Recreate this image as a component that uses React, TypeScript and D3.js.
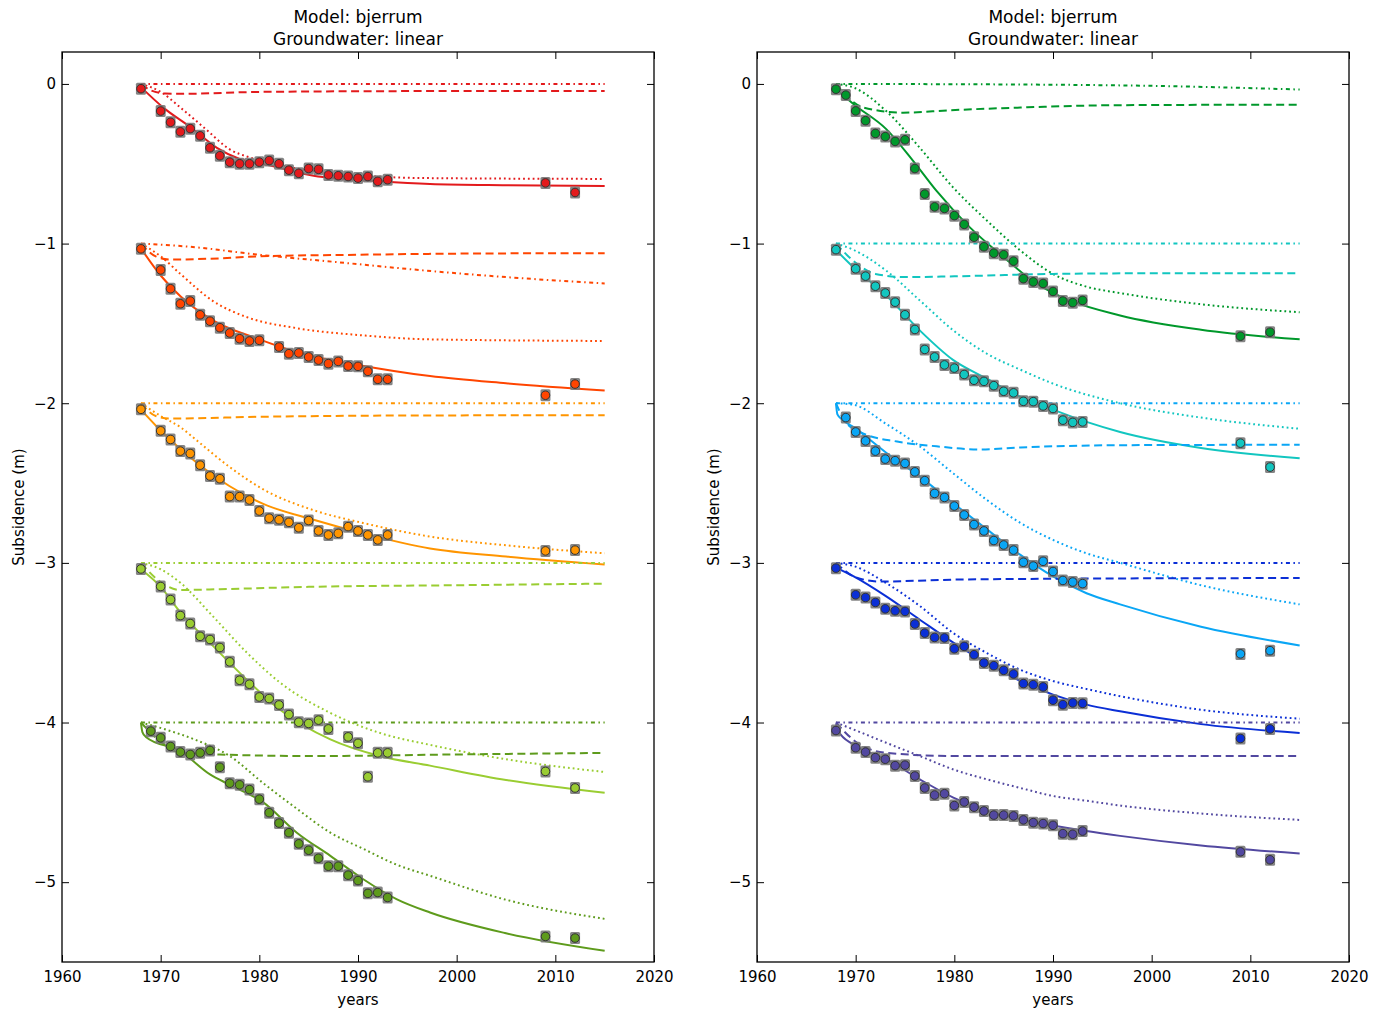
import React, { useEffect, useRef } from 'react';
import * as d3 from 'd3';

// observation years (1968-1993 yearly, then two late surveys)
const obsYears = [1968, 1969, 1970, 1971, 1972, 1973, 1974, 1975, 1976, 1977, 1978, 1979, 1980,
  1981, 1982, 1983, 1984, 1985, 1986, 1987, 1988, 1989, 1990, 1991, 1992, 1993, 2009, 2012];

const xTicks = [1960, 1970, 1980, 1990, 2000, 2010, 2020];
const yTicks = [0, -1, -2, -3, -4, -5];

// ---- left panel observations (null = no survey that year)
const redObs = [-0.03, null, -0.17, -0.24, -0.30, -0.28, -0.325, -0.40, -0.45, -0.49, -0.50, -0.50, -0.49,
  -0.48, -0.50, -0.54, -0.56, -0.53, -0.535, -0.57, -0.575, -0.58, -0.59, -0.58, -0.61, -0.60, -0.62, -0.68];
const orangeRedObs = [-1.033, null, -1.165, -1.283, -1.377, -1.36, -1.446, -1.486, -1.527, -1.56, -1.596, -1.61, -1.606,
  null, -1.648, -1.69, -1.685, -1.71, -1.73, -1.752, -1.738, -1.767, -1.769, -1.80, -1.85, -1.85, -1.95, -1.88];
const orangeObs = [-2.038, null, -2.173, -2.227, -2.30, -2.315, -2.388, -2.456, -2.473, -2.585, -2.585, -2.606, -2.675,
  -2.72, -2.73, -2.746, -2.78, -2.735, -2.80, -2.825, -2.815, -2.773, -2.80, -2.825, -2.856, -2.825, -2.925, -2.92];
const yellowGreenObs = [-3.038, null, -3.148, -3.23, -3.33, -3.38, -3.46, -3.48, -3.53, -3.62, -3.735, -3.76, -3.84,
  -3.85, -3.89, -3.95, -3.998, -4.006, -3.985, -4.04, null, -4.09, -4.13, -4.34, -4.19, -4.19, -4.306, -4.41];
const oliveObs = [null, -4.054, -4.096, -4.15, -4.185, -4.2, -4.19, -4.175, -4.28, -4.38, -4.39, -4.42, -4.48,
  -4.565, -4.63, -4.69, -4.76, -4.80, -4.85, -4.90, -4.90, -4.956, -4.99, -5.07, -5.065, -5.096, -5.34, -5.35];

// ---- right panel observations
const greenObs = [-0.033, -0.07, -0.169, -0.23, -0.31, -0.33, -0.36, -0.35, -0.53, -0.69, -0.77, -0.78, -0.825,
  -0.88, -0.96, -1.02, -1.06, -1.07, -1.11, -1.22, -1.24, -1.25, -1.30, -1.36, -1.37, -1.356, -1.58, -1.555];
const cyanObs = [-1.038, null, -1.158, -1.204, -1.267, -1.31, -1.367, -1.446, -1.538, -1.663, -1.71, -1.76, -1.78,
  -1.82, -1.856, -1.863, -1.89, -1.925, -1.935, -1.988, -1.99, -2.017, -2.033, -2.106, -2.12, -2.117, -2.25, -2.40];
const skyObs = [null, -2.09, -2.18, -2.236, -2.30, -2.35, -2.36, -2.377, -2.43, -2.485, -2.565, -2.59, -2.644,
  -2.70, -2.76, -2.80, -2.86, -2.888, -2.92, -2.996, -3.02, -2.99, -3.054, -3.11, -3.12, -3.13, -3.57, -3.55];
const blueObs = [-3.033, null, -3.2, -3.217, -3.248, -3.288, -3.30, -3.304, -3.383, -3.44, -3.467, -3.47, -3.538,
  -3.523, -3.575, -3.627, -3.644, -3.673, -3.696, -3.756, -3.763, -3.777, -3.86, -3.888, -3.877, -3.88, -4.10, -4.04];
const slateObs = [-4.05, null, -4.158, -4.185, -4.22, -4.23, -4.27, -4.267, -4.335, -4.41, -4.454, -4.446, -4.52,
  -4.498, -4.53, -4.554, -4.58, -4.58, -4.585, -4.61, -4.627, -4.633, -4.644, -4.696, -4.70, -4.68, -4.81, -4.86];

// ---- model curves, [year, subsidence]
const redSolid = [[1968, -0.02], [1970.3, -0.15], [1973, -0.27], [1975.7, -0.40], [1978, -0.47], [1981, -0.51],
  [1985.5, -0.575], [1992.2, -0.61], [1997.3, -0.627], [2005, -0.635], [2015, -0.64]];
const redDotted = [[1968, 0], [1970, -0.05], [1972, -0.148], [1974.7, -0.29], [1977, -0.41], [1979, -0.46],
  [1983.8, -0.53], [1990.5, -0.575], [1997.3, -0.59], [2015, -0.595]];
const redDashed = [[1968, 0], [1969, -0.04], [1970.5, -0.06], [1972, -0.062], [1980, -0.05], [1995, -0.045], [2015, -0.044]];
const redDashDot = [[1968, 0], [2015, 0]];

const orangeRedSolid = [[1968, -1.03], [1970, -1.2], [1972, -1.33], [1975, -1.47], [1980, -1.60], [1985, -1.70],
  [1990, -1.76], [1997.3, -1.83], [2005, -1.875], [2015, -1.92]];
const orangeRedDotted = [[1968, -1.0], [1970, -1.08], [1972, -1.19], [1975.3, -1.36], [1978.7, -1.46], [1983.8, -1.53],
  [1990.5, -1.575], [1997.3, -1.60], [2015, -1.61]];
const orangeRedDashed = [[1968, -1.0], [1969.5, -1.08], [1971, -1.1], [1975, -1.095], [1980, -1.08], [1990, -1.07],
  [2000, -1.063], [2015, -1.06]];
const orangeRedDashDot = [[1968, -1.0], [1973, -1.02], [1980, -1.07], [1988, -1.117], [1997, -1.17], [2005, -1.21], [2015, -1.25]];

const orangeSolid = [[1968, -2.04], [1970.3, -2.19], [1973.6, -2.37], [1977, -2.52], [1980.4, -2.63], [1985.5, -2.73],
  [1990.5, -2.815], [1997.3, -2.91], [2005, -2.96], [2015, -3.01]];
const orangeDotted = [[1968, -2.0], [1970, -2.08], [1972, -2.15], [1973.6, -2.23], [1977, -2.40], [1980.4, -2.54],
  [1985.5, -2.67], [1990.5, -2.75], [1997.3, -2.835], [2005, -2.89], [2015, -2.94]];
const orangeDashed = [[1968, -2.0], [1969.5, -2.08], [1971, -2.096], [1980, -2.085], [1995, -2.077], [2015, -2.075]];
const orangeDashDot = [[1968, -2.0], [2015, -2.0]];

const yellowGreenSolid = [[1968, -3.04], [1970, -3.15], [1972, -3.31], [1975.3, -3.52], [1978.7, -3.73], [1982.1, -3.92],
  [1987.2, -4.106], [1992.2, -4.21], [1997.3, -4.27], [2005, -4.36], [2015, -4.44]];
const yellowGreenDotted = [[1968, -3.0], [1970, -3.04], [1972, -3.125], [1975.3, -3.335], [1978.7, -3.56], [1982.1, -3.75],
  [1987.2, -3.94], [1992.2, -4.065], [1997.3, -4.14], [2005, -4.23], [2015, -4.31]];
const yellowGreenDashed = [[1968, -3.0], [1970, -3.12], [1972, -3.17], [1976, -3.165], [1985, -3.15], [2000, -3.14], [2015, -3.13]];
const yellowGreenDashDot = [[1968, -3.0], [2015, -3.0]];

const oliveSolid = [[1968, -4.0], [1968.15, -4.06], [1968.5, -4.09], [1972, -4.18], [1975, -4.325], [1977, -4.39],
  [1980.4, -4.50], [1983.8, -4.69], [1987.2, -4.835], [1990.5, -4.98], [1993.9, -5.106], [1997.3, -5.19],
  [2005, -5.32], [2015, -5.43]];
const oliveDotted = [[1968, -4.0], [1970.3, -4.04], [1973.6, -4.11], [1977, -4.21], [1980.4, -4.38], [1983.8, -4.54],
  [1987.2, -4.69], [1990.5, -4.79], [1993.9, -4.89], [1997.3, -4.96], [2005, -5.11], [2015, -5.23]];
const oliveDashed = [[1968, -4.0], [1970, -4.12], [1972, -4.19], [1976, -4.2], [1985, -4.21], [2000, -4.2], [2015, -4.19]];
const oliveDashDot = [[1968, -4.0], [2015, -4.0]];

const greenSolid = [[1968, -0.03], [1969.8, -0.127], [1973.1, -0.283], [1975.8, -0.48], [1978.2, -0.67], [1981.6, -0.90],
  [1985, -1.085], [1988.3, -1.25], [1991.7, -1.356], [1996.8, -1.45], [2005, -1.54], [2015, -1.60]];
const greenDotted = [[1968, 0], [1969.8, -0.023], [1973.1, -0.17], [1976.5, -0.40], [1979.9, -0.65], [1983.3, -0.856],
  [1986.7, -1.044], [1990, -1.19], [1993.4, -1.27], [1996.8, -1.31], [2005, -1.38], [2015, -1.43]];
const greenDashed = [[1968, 0], [1969.5, -0.1], [1970.8, -0.148], [1974.8, -0.18], [1979.5, -0.165], [1986.7, -0.148],
  [1996.8, -0.133], [2015, -0.13]];
const greenDashDot = [[1968, 0], [1990, -0.005], [2000, -0.012], [2015, -0.035]];

const cyanSolid = [[1968, -1.04], [1969.8, -1.15], [1973.1, -1.325], [1976.5, -1.544], [1979.9, -1.73], [1983.3, -1.846],
  [1986.7, -1.96], [1990, -2.04], [1993.4, -2.117], [1996.8, -2.18], [2005, -2.28], [2015, -2.345]];
const cyanDotted = [[1968, -1.0], [1969.8, -1.04], [1973.1, -1.17], [1976.5, -1.356], [1979.9, -1.544], [1983.3, -1.69],
  [1986.7, -1.79], [1990, -1.877], [1996.8, -2.0], [2005, -2.09], [2015, -2.16]];
const cyanDashed = [[1968, -1.0], [1970, -1.12], [1972, -1.19], [1975, -1.21], [1980, -1.205], [1990, -1.19],
  [2000, -1.186], [2015, -1.186]];
const cyanDashDot = [[1968, -1.0], [2015, -1.0]];

const skySolid = [[1968, -2.0], [1968.15, -2.07], [1968.6, -2.1], [1969.8, -2.15], [1973.1, -2.31], [1976.5, -2.46],
  [1979.9, -2.627], [1983.3, -2.79], [1986.7, -2.95], [1990, -3.085], [1993.4, -3.19], [1996.8, -3.26],
  [2005, -3.40], [2015, -3.517]];
const skyDotted = [[1968, -2.0], [1969.8, -2.01], [1973.1, -2.13], [1976.5, -2.27], [1979.9, -2.44], [1983.3, -2.606],
  [1986.7, -2.75], [1990, -2.856], [1993.4, -2.94], [1996.8, -3.0], [2005, -3.14], [2015, -3.26]];
const skyDashed = [[1968, -2.0], [1969, -2.12], [1970.8, -2.19], [1974.2, -2.24], [1978.2, -2.27], [1982.6, -2.29],
  [1986.7, -2.277], [1996.8, -2.263], [2015, -2.26]];
const skyDashDot = [[1968, -2.0], [2015, -2.0]];

const blueSolid = [[1968, -3.03], [1969.8, -3.085], [1973.1, -3.21], [1976.5, -3.356], [1979.9, -3.50], [1983.3, -3.627],
  [1986.7, -3.74], [1990, -3.825], [1993.4, -3.888], [1996.8, -3.93], [2005, -4.01], [2015, -4.066]];
const blueDotted = [[1968, -3.0], [1969.8, -3.02], [1973.1, -3.127], [1976.5, -3.27], [1979.9, -3.44], [1983.3, -3.565],
  [1986.7, -3.67], [1990, -3.74], [1993.4, -3.79], [1996.8, -3.835], [2005, -3.92], [2015, -3.976]];
const blueDashed = [[1968, -3.0], [1970, -3.09], [1972.5, -3.117], [1980, -3.105], [1995, -3.098], [2015, -3.095]];
const blueDashDot = [[1968, -3.0], [2015, -3.0]];

const slateSolid = [[1968, -4.01], [1968.2, -4.05], [1969.8, -4.14], [1973.1, -4.23], [1976.5, -4.356], [1979.9, -4.47],
  [1983.3, -4.554], [1986.7, -4.606], [1990, -4.645], [1993.4, -4.68], [1996.8, -4.71], [2005, -4.77], [2015, -4.82]];
const slateDotted = [[1968, -4.0], [1969.8, -4.044], [1973.1, -4.127], [1976.5, -4.21], [1979.9, -4.294], [1983.3, -4.356],
  [1986.7, -4.41], [1990, -4.46], [1993.4, -4.49], [1996.8, -4.52], [2005, -4.57], [2015, -4.61]];
const slateDashed = [[1968, -4.0], [1970, -4.12], [1973.1, -4.19], [1980, -4.21], [2000, -4.21], [2015, -4.21]];
const slateDashDot = [[1968, -4.0], [2015, -4.0]];

const leftSeries = [
  { color: '#e31a1c', obs: redObs, solid: redSolid, dotted: redDotted, dashed: redDashed, dashdot: redDashDot },
  { color: '#ff4500', obs: orangeRedObs, solid: orangeRedSolid, dotted: orangeRedDotted, dashed: orangeRedDashed, dashdot: orangeRedDashDot },
  { color: '#ff9500', obs: orangeObs, solid: orangeSolid, dotted: orangeDotted, dashed: orangeDashed, dashdot: orangeDashDot },
  { color: '#9acd32', obs: yellowGreenObs, solid: yellowGreenSolid, dotted: yellowGreenDotted, dashed: yellowGreenDashed, dashdot: yellowGreenDashDot },
  { color: '#5e9b1c', obs: oliveObs, solid: oliveSolid, dotted: oliveDotted, dashed: oliveDashed, dashdot: oliveDashDot },
];
const rightSeries = [
  { color: '#00982b', obs: greenObs, solid: greenSolid, dotted: greenDotted, dashed: greenDashed, dashdot: greenDashDot },
  { color: '#12c6c0', obs: cyanObs, solid: cyanSolid, dotted: cyanDotted, dashed: cyanDashed, dashdot: cyanDashDot },
  { color: '#0aa6f5', obs: skyObs, solid: skySolid, dotted: skyDotted, dashed: skyDashed, dashdot: skyDashDot },
  { color: '#0b2fd6', obs: blueObs, solid: blueSolid, dotted: blueDotted, dashed: blueDashed, dashdot: blueDashDot },
  { color: '#5248a0', obs: slateObs, solid: slateSolid, dotted: slateDotted, dashed: slateDashed, dashdot: slateDashDot },
];

const font = 'DejaVu Sans, sans-serif';

export default function App() {
  const ref = useRef<SVGSVGElement>(null);

  useEffect(() => {
    const svg = d3.select(ref.current);
    svg.selectAll('*').remove();

    const top = 52, bottom = 962;
    const panels = [
      { left: 62, right: 654, series: leftSeries },
      { left: 757, right: 1349, series: rightSeries },
    ];

    panels.forEach(p => {
      const x = d3.scaleLinear().domain([1960, 2020]).range([p.left, p.right]);
      const y = d3.scaleLinear().domain([-5.5, 0.2]).range([bottom, top]);
      const cx = (p.left + p.right) / 2;
      const g = svg.append('g');

      const line = d3.line<number[]>()
        .x(d => x(d[0]))
        .y(d => y(d[1]))
        .curve(d3.curveMonotoneX);

      // model lines
      p.series.forEach(s => {
        const styles: [number[][], string | null][] = [
          [s.dashdot, '4,3.5,1.5,3.5'],
          [s.dashed, '8,4.5'],
          [s.dotted, '1.8,3'],
          [s.solid, null],
        ];
        styles.forEach(([pts, dash]) => {
          g.append('path')
            .datum(pts)
            .attr('d', line)
            .attr('fill', 'none')
            .attr('stroke', s.color)
            .attr('stroke-width', 2)
            .attr('stroke-dasharray', dash)
            .attr('stroke-linejoin', 'round');
        });
      });

      // observations with error bars
      p.series.forEach(s => {
        const pts = obsYears.map((yr, i) => [yr, s.obs[i]]).filter(d => d[1] !== null) as number[][];
        g.selectAll(null)
          .data(pts)
          .enter()
          .append('rect')
          .attr('x', d => x(d[0]) - 5)
          .attr('y', d => y(d[1]) - 6)
          .attr('width', 10)
          .attr('height', 12)
          .attr('rx', 1.5)
          .attr('fill', '#787878')
          .attr('opacity', 0.9);
        g.selectAll(null)
          .data(pts)
          .enter()
          .append('circle')
          .attr('cx', d => x(d[0]))
          .attr('cy', d => y(d[1]))
          .attr('r', 4.3)
          .attr('fill', s.color)
          .attr('stroke', '#333')
          .attr('stroke-width', 1);
      });

      // axes, ticks pointing inward
      const bottomAxis = g.append('g')
        .attr('transform', `translate(0,${bottom})`)
        .call(d3.axisBottom(x).tickValues(xTicks).tickFormat(d3.format('d')).tickSizeInner(-7).tickSizeOuter(0).tickPadding(9));
      const leftAxis = g.append('g')
        .attr('transform', `translate(${p.left},0)`)
        .call(d3.axisLeft(y).tickValues(yTicks).tickFormat(d3.format('d')).tickSizeInner(-7).tickSizeOuter(0).tickPadding(6));
      const topAxis = g.append('g')
        .attr('transform', `translate(0,${top})`)
        .call(d3.axisTop(x).tickValues(xTicks).tickFormat(() => '').tickSizeInner(-7).tickSizeOuter(0));
      const rightAxis = g.append('g')
        .attr('transform', `translate(${p.right},0)`)
        .call(d3.axisRight(y).tickValues(yTicks).tickFormat(() => '').tickSizeInner(-7).tickSizeOuter(0));

      [bottomAxis, leftAxis, topAxis, rightAxis].forEach(a => {
        a.select('.domain').remove();
        a.selectAll('line').attr('stroke', '#000').attr('stroke-width', 1);
        a.selectAll('text').attr('fill', '#000').style('font-family', font).style('font-size', '15px');
      });

      g.append('rect')
        .attr('x', p.left)
        .attr('y', top)
        .attr('width', p.right - p.left)
        .attr('height', bottom - top)
        .attr('fill', 'none')
        .attr('stroke', '#000')
        .attr('stroke-width', 1.3);

      // titles and labels
      g.append('text')
        .attr('x', cx).attr('y', 23)
        .attr('text-anchor', 'middle')
        .style('font-family', font).style('font-size', '17px')
        .text('Model: bjerrum');
      g.append('text')
        .attr('x', cx).attr('y', 45)
        .attr('text-anchor', 'middle')
        .style('font-family', font).style('font-size', '17px')
        .text('Groundwater: linear');
      g.append('text')
        .attr('x', cx).attr('y', 1005)
        .attr('text-anchor', 'middle')
        .style('font-family', font).style('font-size', '15px')
        .text('years');
      g.append('text')
        .attr('transform', `translate(${p.left - 38},${(top + bottom) / 2}) rotate(-90)`)
        .attr('text-anchor', 'middle')
        .style('font-family', font).style('font-size', '15px')
        .text('Subsidence (m)');
    });
  }, []);

  return (
    <svg
      ref={ref}
      width={1381}
      height={1010}
      style={{ position: 'absolute', left: 0, top: 0, background: '#fff' }}
    />
  );
}
